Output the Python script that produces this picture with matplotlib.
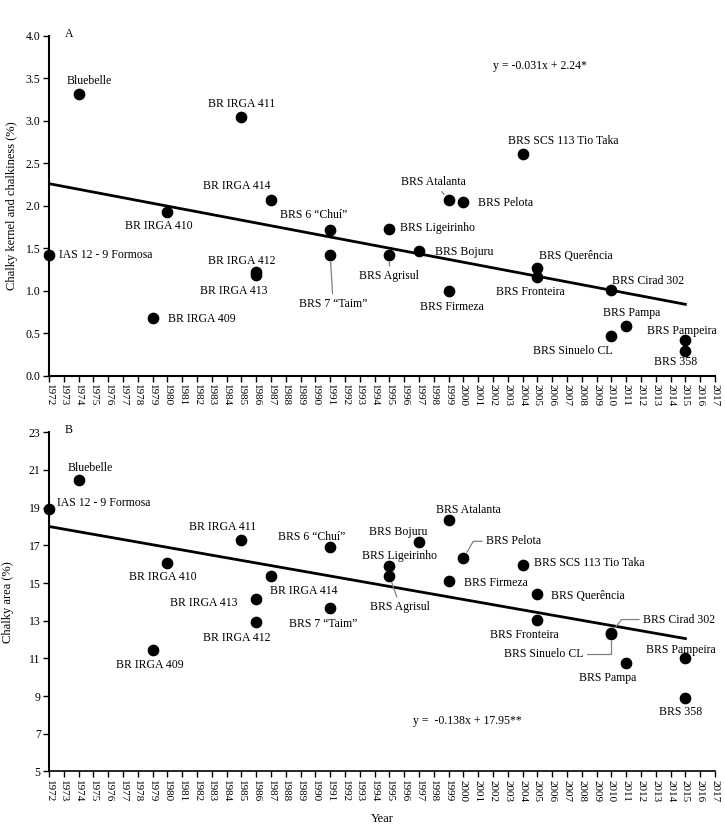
import numpy as np
import matplotlib
matplotlib.use("Agg")
import matplotlib.pyplot as plt

plt.rcParams['font.family'] = ['Liberation Serif', 'DejaVu Serif']

# cultivars: name, release year
names = ["IAS 12 - 9 Formosa", "Bluebelle", "BR IRGA 409", "BR IRGA 410",
         "BR IRGA 411", "BR IRGA 412", "BR IRGA 413", "BR IRGA 414",
         "BRS 6 \u201cChuí\u201d", "BRS 7 \u201cTaim\u201d", "BRS Ligeirinho",
         "BRS Agrisul", "BRS Bojuru", "BRS Atalanta", "BRS Pelota",
         "BRS Firmeza", "BRS SCS 113 Tio Taka", "BRS Querência",
         "BRS Fronteira", "BRS Cirad 302", "BRS Pampa", "BRS Sinuelo CL",
         "BRS Pampeira", "BRS 358"]
years = [1972, 1974, 1979, 1980, 1985, 1986, 1986, 1987, 1991, 1991, 1995,
         1995, 1997, 1999, 2000, 1999, 2004, 2005, 2005, 2010, 2011, 2010,
         2015, 2015]

# A: chalky kernel and chalkiness (%)
chalky_kernel = [1.42, 3.32, 0.68, 1.93, 3.04, 1.22, 1.18, 2.07, 1.71, 1.42,
                 1.73, 1.42, 1.47, 2.07, 2.04, 1.00, 2.61, 1.27, 1.16, 1.01,
                 0.58, 0.47, 0.42, 0.29]
# B: chalky area (%)
chalky_area = [18.95, 20.45, 11.43, 16.05, 17.27, 12.93, 14.15, 15.37, 16.9,
               13.69, 15.89, 15.37, 17.18, 18.33, 16.31, 15.13, 15.94, 14.42,
               13.04, 12.37, 10.75, 12.3, 11.04, 8.91]

trend_years = [1972, 2015]
trend_a = [2.26, 0.84]
trend_b = [18.0, 12.05]

eq_a = "y = -0.031x + 2.24*"
eq_b = "y =  -0.138x + 17.95**"

# label placement (offset pixels, ha, leader connection)
lab_a = {
    "IAS 12 - 9 Formosa": (10, 0, 'left', None),
    "Bluebelle": (11, 13, 'center', None),
    "BR IRGA 409": (15, -1, 'left', None),
    "BR IRGA 410": (-9, -14, 'center', None),
    "BR IRGA 411": (0, 13, 'center', None),
    "BR IRGA 412": (-14, 11, 'center', None),
    "BR IRGA 413": (-22, -16, 'center', None),
    "BR IRGA 414": (-34, 14, 'center', None),
    "BRS 6 \u201cChuí\u201d": (-17, 15, 'center', None),
    "BRS 7 \u201cTaim\u201d": (3, -49, 'center', 'arc3'),
    "BRS Ligeirinho": (11, 1, 'left', None),
    "BRS Agrisul": (0, -21, 'center', 'arc3'),
    "BRS Bojuru": (16, -1, 'left', None),
    "BRS Atalanta": (-15, 18, 'center', 'arc3'),
    "BRS Pelota": (15, -1, 'left', None),
    "BRS Firmeza": (3, -16, 'center', None),
    "BRS SCS 113 Tio Taka": (41, 13, 'center', None),
    "BRS Querência": (38, 12, 'center', None),
    "BRS Fronteira": (-7, -15, 'center', None),
    "BRS Cirad 302": (37, 9, 'center', None),
    "BRS Pampa": (5, 13, 'center', None),
    "BRS Sinuelo CL": (-39, -15, 'center', None),
    "BRS Pampeira": (-4, 9, 'center', None),
    "BRS 358": (-10, -11, 'center', None),
}
lab_b = {
    "IAS 12 - 9 Formosa": (8, 6, 'left', None),
    "Bluebelle": (12, 12, 'center', None),
    "BR IRGA 409": (-3, -15, 'center', None),
    "BR IRGA 410": (-5, -14, 'center', None),
    "BR IRGA 411": (-19, 13, 'center', None),
    "BR IRGA 412": (-19, -16, 'center', None),
    "BR IRGA 413": (-52, -4, 'center', None),
    "BR IRGA 414": (33, -15, 'center', None),
    "BRS 6 \u201cChuí\u201d": (-19, 10, 'center', None),
    "BRS 7 \u201cTaim\u201d": (-7, -16, 'center', None),
    "BRS Ligeirinho": (10, 10, 'center', None),
    "BRS Agrisul": (11, -31, 'center', 'arc3'),
    "BRS Bojuru": (-21, 10, 'center', None),
    "BRS Atalanta": (20, 10, 'center', None),
    "BRS Pelota": (23, 17, 'left', 'angle,angleA=0,angleB=60,rad=0'),
    "BRS Firmeza": (15, -2, 'left', None),
    "BRS SCS 113 Tio Taka": (11, 2, 'left', None),
    "BRS Querência": (14, -2, 'left', None),
    "BRS Fronteira": (-13, -15, 'center', None),
    "BRS Cirad 302": (32, 13, 'left', 'angle,angleA=0,angleB=52,rad=0'),
    "BRS Pampa": (-19, -15, 'center', None),
    "BRS Sinuelo CL": (-68, -20, 'center', 'angle,angleA=0,angleB=90,rad=0'),
    "BRS Pampeira": (-5, 8, 'center', None),
    "BRS 358": (-5, -14, 'center', None),
}

fig = plt.figure(figsize=(7.25, 8.33), dpi=100)
ax_a = fig.add_axes([0.0676, 0.549, 0.9186, 0.408])
ax_b = fig.add_axes([0.0676, 0.074, 0.9186, 0.407])

FS = 8.5


def panel(ax, vals, trend, labels, ylim, yticks, fmt, ylabel, letter, eq, eq_xy, ylab_x):
    ax.plot(trend_years, trend, color='black', lw=2.0, zorder=2)
    ax.scatter(years, vals, s=55, color='black', zorder=3, clip_on=False)
    for n, x, y in zip(names, years, vals):
        dx, dy, ha, conn = labels[n]
        kw = {}
        if conn:
            kw['arrowprops'] = dict(arrowstyle='-', color='#808080', lw=0.9,
                                    connectionstyle=conn, shrinkA=1, shrinkB=5)
        ax.annotate(n, (x, y), xytext=(dx, dy), textcoords='offset pixels',
                    ha=ha, va='center', fontsize=FS, **kw)
    ax.set_xlim(1972, 2017)
    ax.set_ylim(*ylim)
    ax.set_yticks(yticks)
    ax.set_yticklabels([fmt % t for t in yticks], fontsize=FS)
    ax.set_xticks(range(1972, 2018))
    ax.set_xticklabels([str(t) for t in range(1972, 2018)], rotation=270, fontsize=8)
    ax.tick_params(axis='both', direction='out', length=4, width=1, pad=2)
    for s in ['top', 'right']:
        ax.spines[s].set_visible(False)
    for s in ['left', 'bottom']:
        ax.spines[s].set_linewidth(1.5)
    ax.set_ylabel(ylabel, fontsize=FS + 0.5)
    ax.yaxis.set_label_coords(ylab_x, 0.5)
    ax.text(0.024, 1.006, letter, transform=ax.transAxes, fontsize=FS, va='center')
    ax.text(eq_xy[0], eq_xy[1], eq, ha='center', va='center', fontsize=FS)


panel(ax_a, chalky_kernel, trend_a, lab_a, (0, 4), np.arange(0, 4.01, 0.5), '%.1f',
      'Chalky kernel and chalkiness (%)', 'A', eq_a, (2005.2, 3.64), -0.046)
panel(ax_b, chalky_area, trend_b, lab_b, (5, 23), list(range(5, 24, 2)), '%d',
      'Chalky area (%)', 'B', eq_b, (2000.3, 7.66), -0.052)
ax_b.spines['bottom'].set_linestyle((0, (2, 1)))
ax_b.spines['bottom'].set_linewidth(1.2)

fig.text(0.527, 0.017, 'Year', ha='center', va='center', fontsize=FS + 0.5)

fig.savefig('out.png', dpi=100)
